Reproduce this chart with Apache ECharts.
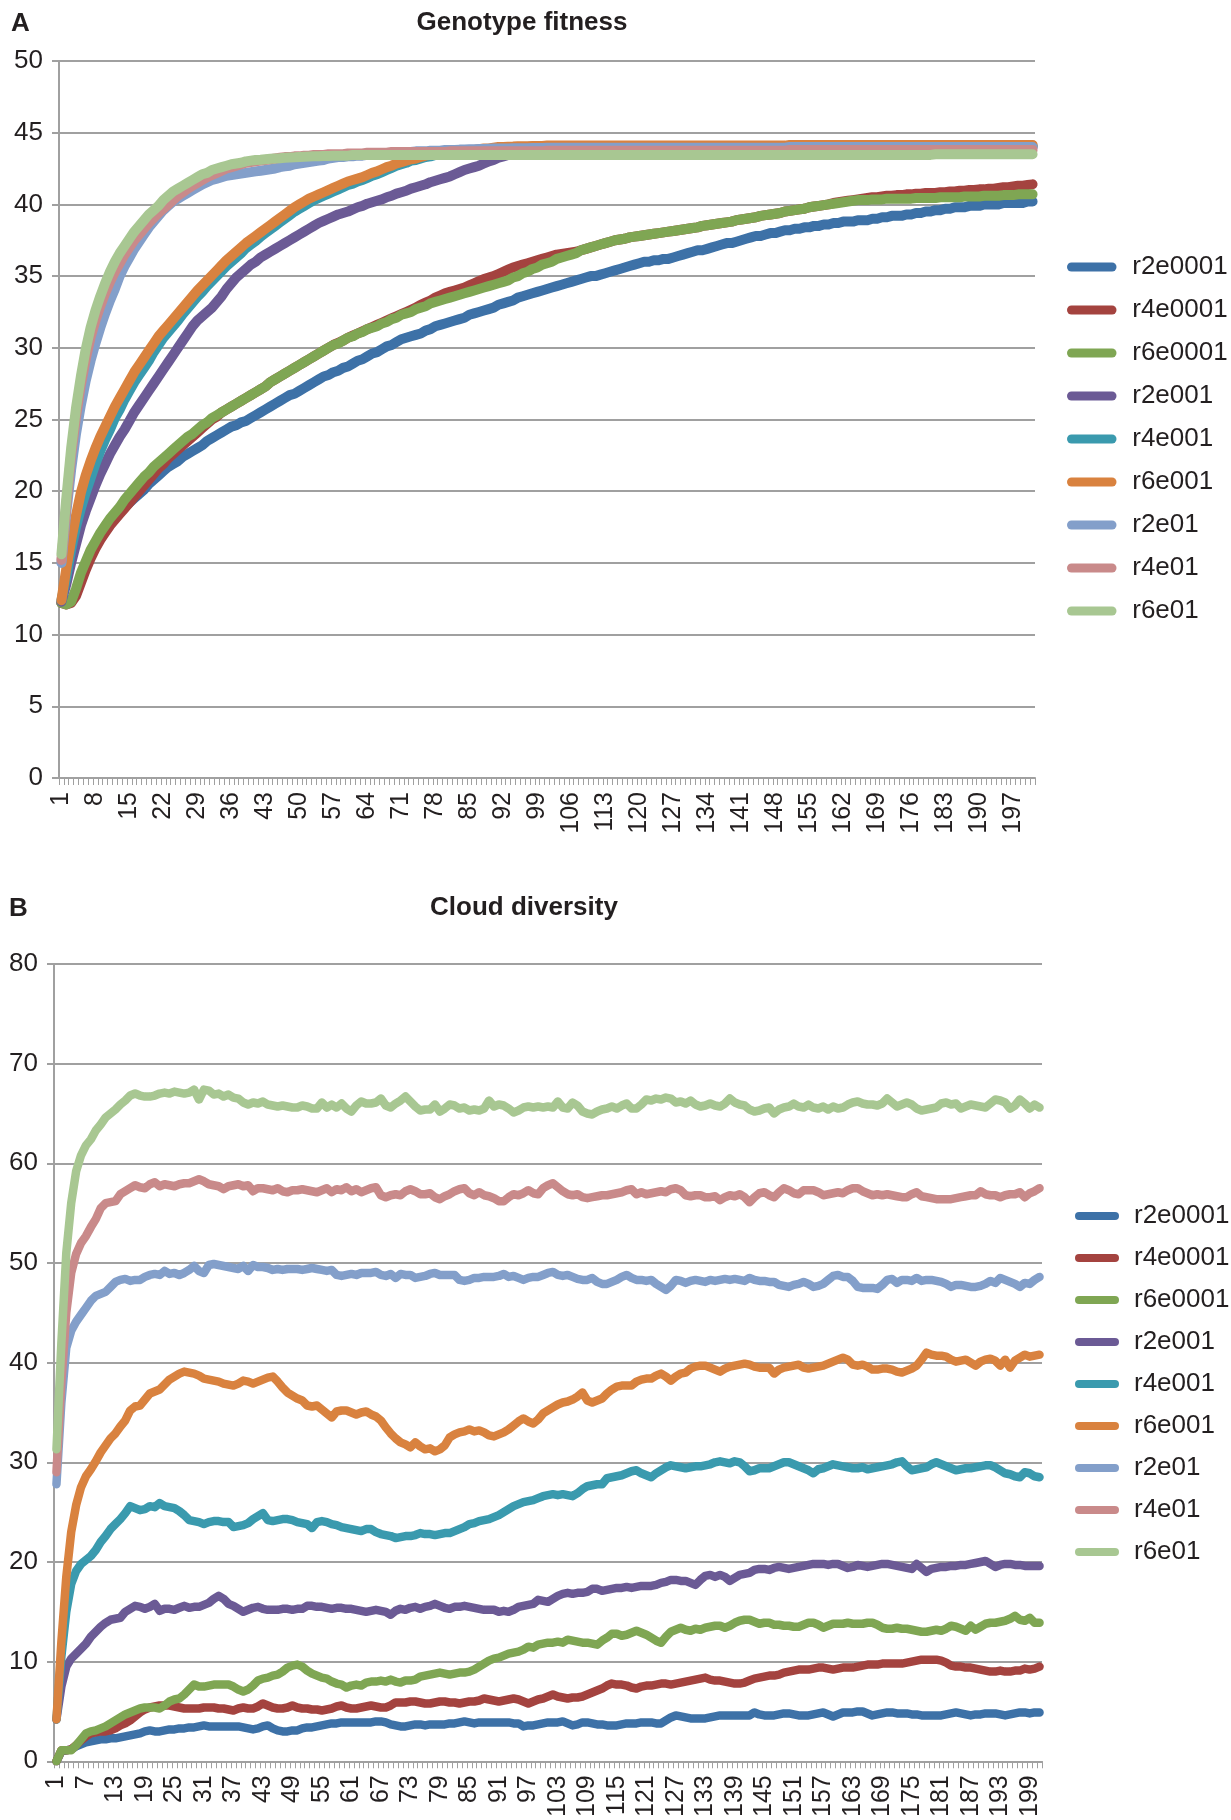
<!DOCTYPE html>
<html>
<head>
<meta charset="utf-8">
<script src="https://cdn.jsdelivr.net/npm/echarts/dist/echarts.min.js"></script>
<style>
html,body{margin:0;padding:0;background:#fff;}
#chart{width:1231px;height:1820px;}
</style>
</head>
<body>
<div id="chart"></div>
<script>
// ---------- names / colours ----------
const seriesNames = ['r2e0001','r4e0001','r6e0001','r2e001','r4e001','r6e001','r2e01','r4e01','r6e01'];
const seriesColors = ['#3d71a7','#a4433f','#7fa653','#6b5a95','#3a9aae','#d9823f','#839fca','#c98a8a','#a8c792'];

// ---------- categories (generations 1..201) ----------
const generations = [];
for (let g = 1; g <= 201; g++) generations.push(String(g));

// ---------- panel A : Genotype fitness ----------
const fit_r2e0001 = [
12.2,12.2,12.3,13.0,14.0,14.9,15.7,16.3,16.9,17.4,
17.8,18.1,18.5,18.9,19.2,19.5,19.8,20.1,20.5,20.8,
21.1,21.4,21.7,21.9,22.1,22.4,22.6,22.8,23.0,23.2,
23.5,23.7,23.9,24.1,24.3,24.5,24.6,24.8,24.9,25.1,
25.3,25.5,25.7,25.9,26.1,26.3,26.5,26.7,26.8,27.0,
27.2,27.4,27.6,27.8,28.0,28.1,28.3,28.4,28.6,28.7,
28.9,29.1,29.2,29.4,29.6,29.7,29.9,30.1,30.2,30.4,
30.6,30.7,30.8,30.9,31.0,31.2,31.3,31.5,31.6,31.7,
31.8,31.9,32.0,32.1,32.3,32.4,32.5,32.6,32.7,32.8,
33.0,33.1,33.2,33.3,33.5,33.6,33.7,33.8,33.9,34.0,
34.1,34.2,34.3,34.4,34.5,34.6,34.7,34.8,34.9,35.0,
35.0,35.1,35.2,35.3,35.4,35.5,35.6,35.7,35.8,35.9,
36.0,36.0,36.1,36.1,36.2,36.2,36.3,36.4,36.5,36.6,
36.7,36.8,36.8,36.9,37.0,37.1,37.2,37.3,37.3,37.4,
37.5,37.6,37.7,37.8,37.8,37.9,38.0,38.0,38.1,38.2,
38.2,38.3,38.3,38.4,38.4,38.5,38.5,38.6,38.6,38.7,
38.7,38.8,38.8,38.8,38.9,38.9,38.9,39.0,39.0,39.1,
39.1,39.2,39.2,39.2,39.3,39.3,39.4,39.4,39.5,39.5,
39.6,39.6,39.7,39.7,39.8,39.8,39.8,39.9,39.9,39.9,
40.0,40.0,40.0,40.0,40.1,40.1,40.1,40.1,40.1,40.2,
40.2];
const fit_r4e0001 = [
12.2,12.1,12.2,12.7,13.6,14.5,15.3,16.0,16.6,17.1,
17.6,18.0,18.4,18.8,19.2,19.6,20.0,20.4,20.8,21.2,
21.6,21.9,22.3,22.6,22.9,23.2,23.5,23.8,24.1,24.4,
24.7,25.0,25.2,25.5,25.7,25.9,26.1,26.3,26.5,26.7,
26.9,27.1,27.3,27.6,27.8,28.0,28.2,28.4,28.6,28.8,
29.0,29.2,29.4,29.6,29.8,30.0,30.2,30.35,30.5,30.7,
30.85,31.0,31.15,31.3,31.45,31.6,31.75,31.9,32.05,32.2,
32.35,32.5,32.65,32.8,33.0,33.15,33.3,33.5,33.65,33.8,
33.9,34.0,34.1,34.2,34.35,34.5,34.65,34.8,34.9,35.0,
35.15,35.3,35.45,35.6,35.7,35.8,35.9,36.0,36.1,36.2,
36.3,36.4,36.5,36.55,36.6,36.65,36.7,36.8,36.9,37.0,
37.1,37.2,37.3,37.4,37.5,37.55,37.6,37.7,37.75,37.8,
37.85,37.9,37.95,38.0,38.05,38.1,38.15,38.2,38.25,38.3,
38.35,38.4,38.5,38.55,38.6,38.65,38.7,38.75,38.8,38.9,
38.95,39.0,39.05,39.1,39.2,39.25,39.3,39.35,39.4,39.5,
39.55,39.6,39.65,39.7,39.8,39.85,39.9,39.95,40.0,40.1,
40.15,40.2,40.25,40.3,40.35,40.4,40.45,40.5,40.5,40.55,
40.6,40.6,40.65,40.65,40.7,40.7,40.75,40.75,40.8,40.8,
40.8,40.85,40.85,40.9,40.9,40.95,40.95,41.0,41.0,41.05,
41.05,41.1,41.1,41.15,41.2,41.2,41.25,41.3,41.3,41.35,
41.4];
const fit_r6e0001 = [
12.2,12.1,12.3,13.2,14.3,15.1,15.9,16.5,17.1,17.6,
18.1,18.5,18.9,19.4,19.8,20.2,20.6,21.0,21.3,21.7,
22.0,22.3,22.6,22.9,23.2,23.5,23.8,24.0,24.3,24.6,
24.8,25.1,25.3,25.5,25.7,25.9,26.1,26.3,26.5,26.7,
26.9,27.1,27.3,27.6,27.8,28.0,28.2,28.4,28.6,28.8,
29.0,29.2,29.4,29.6,29.8,30.0,30.2,30.3,30.5,30.7,
30.8,31.0,31.1,31.3,31.4,31.5,31.7,31.8,32.0,32.1,
32.3,32.4,32.5,32.7,32.8,32.9,33.1,33.2,33.3,33.4,
33.5,33.6,33.7,33.8,33.9,34.0,34.1,34.2,34.3,34.4,
34.5,34.6,34.7,34.9,35.0,35.2,35.3,35.5,35.6,35.8,
35.9,36.0,36.2,36.3,36.4,36.5,36.6,36.8,36.9,37.0,
37.1,37.2,37.3,37.4,37.5,37.55,37.6,37.7,37.75,37.8,
37.85,37.9,37.95,38.0,38.05,38.1,38.15,38.2,38.25,38.3,
38.35,38.4,38.5,38.55,38.6,38.65,38.7,38.75,38.8,38.9,
38.95,39.0,39.05,39.1,39.2,39.25,39.3,39.35,39.4,39.5,
39.55,39.6,39.65,39.7,39.8,39.85,39.9,39.95,40.0,40.05,
40.1,40.15,40.2,40.25,40.3,40.3,40.3,40.35,40.35,40.35,
40.4,40.4,40.4,40.4,40.4,40.4,40.45,40.45,40.45,40.45,
40.45,40.5,40.5,40.5,40.5,40.5,40.55,40.55,40.55,40.55,
40.6,40.6,40.6,40.6,40.65,40.65,40.65,40.7,40.7,40.7,
40.7];
const fit_r2e001 = [
12.3,13.5,15.0,16.3,17.6,18.6,19.5,20.4,21.2,21.9,
22.6,23.2,23.8,24.3,24.9,25.5,26.0,26.5,27.0,27.5,
28.0,28.5,29.0,29.5,30.0,30.5,31.0,31.5,31.9,32.2,
32.5,32.8,33.2,33.6,34.1,34.5,34.9,35.2,35.5,35.8,
36.0,36.3,36.5,36.7,36.9,37.1,37.3,37.5,37.7,37.9,
38.1,38.3,38.5,38.7,38.85,39.0,39.15,39.3,39.4,39.5,
39.65,39.8,39.9,40.05,40.15,40.25,40.35,40.5,40.6,40.75,
40.85,40.95,41.1,41.2,41.3,41.4,41.55,41.65,41.75,41.85,
41.95,42.1,42.25,42.4,42.5,42.6,42.7,42.85,43.0,43.1,
43.25,43.35,43.45,43.55,43.6,43.65,43.7,43.72,43.75,43.77,
43.8,43.8,43.82,43.84,43.85,43.86,43.87,43.88,43.88,43.89,
43.9,43.9,43.9,43.9,43.9,43.9,43.9,43.9,43.91,43.91,
43.92,43.92,43.93,43.93,43.94,43.94,43.95,43.95,43.95,43.96,
43.96,43.96,43.97,43.97,43.97,43.98,43.98,43.98,43.98,43.99,
44.0,44.0,44.0,44.0,44.0,44.0,44.0,44.0,44.0,44.0,
44.0,44.0,44.0,44.0,44.0,44.0,44.0,44.0,44.0,44.0,
44.0,44.0,44.0,44.0,44.0,44.0,44.0,44.0,44.0,44.0,
44.0,44.0,44.0,44.0,44.0,44.0,44.0,44.0,44.0,44.0,
44.0,44.0,44.0,44.0,44.0,44.0,44.0,44.0,44.0,44.0,
44.0,44.0,44.0,44.0,44.0,44.0,44.0,44.0,44.0,44.0,
44.0];
const fit_r4e001 = [
12.4,14.0,15.9,17.5,18.8,19.9,20.9,21.9,22.8,23.6,
24.3,25.1,25.7,26.4,27.0,27.6,28.1,28.6,29.1,29.7,
30.2,30.7,31.1,31.5,31.9,32.35,32.75,33.15,33.55,33.9,
34.3,34.65,35.0,35.35,35.7,36.0,36.3,36.6,36.95,37.2,
37.45,37.75,38.0,38.25,38.5,38.75,39.0,39.25,39.5,39.7,
39.9,40.1,40.3,40.45,40.6,40.75,40.9,41.05,41.2,41.35,
41.45,41.6,41.7,41.85,42.0,42.1,42.25,42.4,42.55,42.7,
42.8,42.9,43.05,43.1,43.2,43.3,43.35,43.45,43.5,43.5,
43.55,43.6,43.6,43.65,43.7,43.75,43.8,43.85,43.85,43.9,
43.95,43.95,43.97,43.98,44.0,44.0,44.0,44.02,44.02,44.03,
44.05,44.05,44.05,44.05,44.05,44.05,44.05,44.05,44.05,44.05,
44.05,44.05,44.05,44.05,44.05,44.05,44.05,44.05,44.05,44.05,
44.05,44.05,44.05,44.05,44.05,44.05,44.05,44.05,44.05,44.05,
44.05,44.05,44.05,44.05,44.05,44.05,44.05,44.05,44.05,44.05,
44.05,44.05,44.05,44.05,44.05,44.05,44.05,44.05,44.05,44.05,
44.1,44.1,44.1,44.1,44.1,44.1,44.1,44.1,44.1,44.1,
44.1,44.1,44.1,44.1,44.1,44.1,44.1,44.1,44.1,44.1,
44.1,44.1,44.1,44.1,44.1,44.1,44.1,44.1,44.1,44.1,
44.1,44.1,44.1,44.1,44.1,44.1,44.1,44.1,44.1,44.1,
44.1,44.1,44.1,44.1,44.1,44.1,44.1,44.1,44.1,44.1,
44.1];
const fit_r6e001 = [
12.4,14.6,16.6,18.3,19.9,21.1,22.1,23.0,23.8,24.5,
25.2,25.9,26.5,27.1,27.7,28.3,28.8,29.3,29.8,30.3,
30.8,31.2,31.6,32.0,32.4,32.8,33.2,33.6,34.0,34.35,
34.7,35.05,35.4,35.75,36.1,36.4,36.7,37.0,37.3,37.55,
37.8,38.05,38.3,38.55,38.8,39.05,39.3,39.55,39.8,40.0,
40.2,40.4,40.55,40.7,40.85,41.0,41.15,41.3,41.45,41.6,
41.7,41.8,41.9,42.05,42.2,42.3,42.45,42.6,42.7,42.85,
42.95,43.05,43.15,43.2,43.3,43.4,43.45,43.5,43.55,43.55,
43.6,43.65,43.65,43.7,43.75,43.8,43.85,43.9,43.9,43.95,
44.0,44.0,44.02,44.03,44.05,44.05,44.06,44.07,44.08,44.08,
44.1,44.1,44.1,44.1,44.1,44.1,44.1,44.1,44.1,44.1,
44.1,44.1,44.1,44.1,44.1,44.1,44.1,44.1,44.1,44.1,
44.1,44.1,44.1,44.1,44.1,44.1,44.1,44.1,44.1,44.1,
44.1,44.1,44.1,44.1,44.1,44.1,44.1,44.1,44.1,44.1,
44.1,44.1,44.1,44.1,44.1,44.1,44.1,44.1,44.1,44.1,
44.15,44.15,44.15,44.15,44.15,44.15,44.15,44.15,44.15,44.15,
44.15,44.15,44.15,44.15,44.15,44.15,44.15,44.15,44.15,44.15,
44.15,44.15,44.15,44.15,44.15,44.15,44.15,44.15,44.15,44.15,
44.15,44.15,44.15,44.15,44.15,44.15,44.15,44.15,44.15,44.15,
44.15,44.15,44.15,44.15,44.15,44.15,44.15,44.15,44.15,44.15,
44.15];
const fit_r2e01 = [
15.0,18.5,21.5,24.0,26.0,27.7,29.1,30.3,31.4,32.4,
33.3,34.1,35.0,35.7,36.3,36.9,37.4,37.9,38.4,38.8,
39.2,39.6,39.9,40.2,40.4,40.6,40.8,41.0,41.2,41.4,
41.55,41.7,41.8,41.9,42.0,42.05,42.1,42.15,42.2,42.25,
42.3,42.35,42.4,42.45,42.5,42.6,42.65,42.7,42.8,42.85,
42.9,42.95,43.0,43.05,43.1,43.2,43.25,43.3,43.3,43.35,
43.35,43.4,43.4,43.45,43.45,43.5,43.5,43.55,43.55,43.6,
43.6,43.65,43.65,43.7,43.7,43.7,43.75,43.75,43.75,43.8,
43.8,43.8,43.82,43.83,43.84,43.85,43.86,43.87,43.88,43.89,
43.9,43.9,43.9,43.91,43.91,43.92,43.92,43.93,43.93,43.94,
43.95,43.95,43.95,43.95,43.95,43.95,43.95,43.95,43.95,43.95,
43.95,43.95,43.95,43.95,43.95,43.95,43.95,43.95,43.95,43.95,
43.95,43.95,43.95,43.95,43.95,43.95,43.95,43.95,43.95,43.95,
43.95,43.95,43.95,43.95,43.95,43.95,43.95,43.95,43.95,43.95,
43.95,43.95,43.95,43.95,43.95,43.95,43.95,43.95,43.95,43.95,
44.0,44.0,44.0,44.0,44.0,44.0,44.0,44.0,44.0,44.0,
44.0,44.0,44.0,44.0,44.0,44.0,44.0,44.0,44.0,44.0,
44.0,44.0,44.0,44.0,44.0,44.0,44.0,44.0,44.0,44.0,
44.0,44.0,44.0,44.0,44.0,44.0,44.0,44.0,44.0,44.0,
44.0,44.0,44.0,44.0,44.0,44.0,44.0,44.0,44.0,44.0,
44.0];
const fit_r4e01 = [
15.2,19.0,22.5,25.2,27.4,29.2,30.7,31.9,32.9,33.8,
34.6,35.3,35.9,36.5,37.0,37.5,37.9,38.3,38.7,39.05,
39.4,39.7,40.0,40.3,40.6,40.85,41.1,41.3,41.5,41.7,
41.9,42.05,42.2,42.35,42.5,42.6,42.7,42.8,42.9,42.95,
43.0,43.05,43.1,43.15,43.2,43.25,43.3,43.3,43.35,43.35,
43.4,43.4,43.45,43.45,43.45,43.5,43.5,43.5,43.5,43.55,
43.55,43.55,43.55,43.6,43.6,43.6,43.6,43.6,43.65,43.65,
43.65,43.65,43.65,43.65,43.65,43.65,43.65,43.65,43.65,43.65,
43.7,43.7,43.7,43.7,43.7,43.7,43.7,43.7,43.7,43.7,
43.7,43.7,43.7,43.7,43.7,43.7,43.7,43.7,43.7,43.7,
43.75,43.75,43.75,43.75,43.75,43.75,43.75,43.75,43.75,43.75,
43.75,43.75,43.75,43.75,43.75,43.75,43.75,43.75,43.75,43.75,
43.75,43.75,43.75,43.75,43.75,43.75,43.75,43.75,43.75,43.75,
43.75,43.75,43.75,43.75,43.75,43.75,43.75,43.75,43.75,43.75,
43.75,43.75,43.75,43.75,43.75,43.75,43.75,43.75,43.75,43.75,
43.8,43.8,43.8,43.8,43.8,43.8,43.8,43.8,43.8,43.8,
43.8,43.8,43.8,43.8,43.8,43.8,43.8,43.8,43.8,43.8,
43.8,43.8,43.8,43.8,43.8,43.8,43.8,43.8,43.8,43.8,
43.8,43.8,43.8,43.8,43.8,43.8,43.8,43.8,43.8,43.8,
43.8,43.8,43.8,43.8,43.8,43.8,43.8,43.8,43.8,43.8,
43.8];
const fit_r6e01 = [
15.6,19.5,23.0,25.8,28.0,29.9,31.4,32.6,33.6,34.5,
35.3,36.0,36.6,37.1,37.6,38.1,38.5,38.9,39.3,39.6,
39.9,40.3,40.6,40.9,41.1,41.3,41.5,41.7,41.9,42.1,
42.2,42.4,42.5,42.6,42.7,42.8,42.85,42.9,43.0,43.05,
43.1,43.12,43.15,43.18,43.2,43.22,43.25,43.27,43.28,43.3,
43.32,43.34,43.35,43.36,43.37,43.38,43.39,43.4,43.4,43.4,
43.45,43.45,43.45,43.45,43.45,43.45,43.45,43.45,43.45,43.45,
43.45,43.45,43.45,43.45,43.45,43.45,43.45,43.45,43.45,43.45,
43.45,43.45,43.45,43.45,43.45,43.45,43.45,43.45,43.45,43.45,
43.45,43.45,43.45,43.45,43.45,43.45,43.45,43.45,43.45,43.45,
43.45,43.45,43.45,43.45,43.45,43.45,43.45,43.45,43.45,43.45,
43.45,43.45,43.45,43.45,43.45,43.45,43.45,43.45,43.45,43.45,
43.45,43.45,43.45,43.45,43.45,43.45,43.45,43.45,43.45,43.45,
43.45,43.45,43.45,43.45,43.45,43.45,43.45,43.45,43.45,43.45,
43.45,43.45,43.45,43.45,43.45,43.45,43.45,43.45,43.45,43.45,
43.45,43.45,43.45,43.45,43.45,43.45,43.45,43.45,43.45,43.45,
43.45,43.45,43.45,43.45,43.45,43.45,43.45,43.45,43.45,43.45,
43.45,43.45,43.45,43.45,43.45,43.45,43.45,43.45,43.45,43.45,
43.5,43.5,43.5,43.5,43.5,43.5,43.5,43.5,43.5,43.5,
43.5,43.5,43.5,43.5,43.5,43.5,43.5,43.5,43.5,43.5,
43.5];

// ---------- panel B : Cloud diversity ----------
const div_r2e0001 = [
0,1.0,1.1,1.2,1.5,1.7,1.9,2.0,2.1,2.2,
2.2,2.3,2.3,2.4,2.5,2.6,2.7,2.8,3.0,3.1,
3.0,3.0,3.1,3.2,3.2,3.3,3.3,3.4,3.4,3.5,
3.6,3.5,3.5,3.5,3.5,3.5,3.5,3.5,3.4,3.3,
3.2,3.3,3.5,3.6,3.3,3.1,3.0,3.0,3.1,3.1,
3.3,3.4,3.4,3.5,3.6,3.7,3.8,3.8,3.9,3.9,
3.9,3.9,3.9,3.9,3.9,4.0,4.0,3.9,3.7,3.6,
3.5,3.5,3.6,3.7,3.7,3.6,3.7,3.7,3.7,3.7,
3.8,3.8,3.9,4.0,3.9,3.8,3.9,3.9,3.9,3.9,
3.9,3.9,3.9,3.8,3.8,3.5,3.6,3.6,3.7,3.8,
3.9,3.9,3.9,4.0,3.8,3.6,3.7,3.9,3.9,3.8,
3.7,3.7,3.6,3.6,3.6,3.7,3.8,3.8,3.8,3.9,
3.9,3.9,3.8,3.8,4.1,4.4,4.6,4.5,4.4,4.3,
4.3,4.3,4.3,4.4,4.5,4.6,4.6,4.6,4.6,4.6,
4.6,4.6,4.9,4.7,4.6,4.6,4.6,4.7,4.8,4.8,
4.7,4.6,4.6,4.6,4.7,4.8,4.9,4.7,4.5,4.7,
4.9,4.9,4.9,5.0,5.0,4.8,4.6,4.7,4.8,4.9,
4.9,4.8,4.8,4.8,4.7,4.7,4.6,4.6,4.6,4.6,
4.6,4.7,4.8,4.9,4.8,4.7,4.6,4.7,4.7,4.8,
4.8,4.8,4.7,4.6,4.7,4.8,4.9,4.9,4.8,4.9,
4.9];
const div_r4e0001 = [
0,1.1,1.1,1.2,1.6,2.1,2.5,2.8,2.9,3.0,
3.0,3.1,3.3,3.6,3.8,4.1,4.5,4.9,5.2,5.4,
5.5,5.6,5.6,5.6,5.5,5.4,5.3,5.3,5.3,5.3,
5.4,5.4,5.4,5.3,5.3,5.2,5.1,5.3,5.4,5.3,
5.3,5.5,5.8,5.6,5.4,5.3,5.3,5.4,5.6,5.4,
5.3,5.3,5.2,5.2,5.1,5.2,5.3,5.5,5.6,5.4,
5.3,5.3,5.4,5.5,5.6,5.5,5.4,5.4,5.6,5.9,
5.9,5.9,6.0,6.0,5.9,5.8,5.8,5.9,6.0,6.0,
5.9,5.9,5.8,5.9,6.0,6.0,6.1,6.3,6.2,6.1,
6.0,6.1,6.2,6.3,6.2,6.0,5.8,6.0,6.2,6.3,
6.5,6.7,6.5,6.4,6.3,6.4,6.4,6.5,6.7,6.9,
7.1,7.3,7.6,7.8,7.7,7.7,7.6,7.4,7.3,7.5,
7.6,7.6,7.7,7.8,7.8,7.7,7.8,7.9,8.0,8.1,
8.2,8.3,8.4,8.2,8.1,8.1,8.0,7.9,7.8,7.8,
7.9,8.1,8.3,8.4,8.5,8.6,8.6,8.7,8.9,9.0,
9.1,9.2,9.2,9.2,9.3,9.4,9.4,9.3,9.2,9.3,
9.4,9.4,9.4,9.5,9.6,9.7,9.7,9.7,9.8,9.8,
9.8,9.8,9.8,9.9,10.0,10.1,10.2,10.2,10.2,10.2,
10.1,9.9,9.6,9.5,9.5,9.4,9.4,9.3,9.2,9.1,
9.0,9.0,9.1,9.0,9.0,9.1,9.1,9.3,9.2,9.3,
9.5];
const div_r6e0001 = [
0,1.1,1.1,1.1,1.6,2.2,2.8,3.0,3.1,3.3,
3.5,3.8,4.1,4.4,4.7,4.9,5.1,5.3,5.4,5.4,
5.4,5.3,5.6,6.0,6.2,6.3,6.7,7.2,7.7,7.5,
7.5,7.6,7.7,7.7,7.7,7.7,7.5,7.2,7.0,7.2,
7.6,8.1,8.3,8.4,8.6,8.7,9.0,9.4,9.6,9.7,
9.5,9.1,8.8,8.6,8.4,8.3,8.0,7.8,7.7,7.4,
7.6,7.7,7.6,7.9,8.0,8.0,8.1,8.0,8.2,8.0,
7.9,8.1,8.1,8.2,8.5,8.6,8.7,8.8,8.9,8.8,
8.7,8.8,8.9,8.9,9.0,9.2,9.5,9.8,10.1,10.3,
10.4,10.6,10.8,10.9,11.0,11.2,11.5,11.4,11.7,11.8,
11.9,11.9,12.0,11.9,12.2,12.1,12.0,11.9,11.9,11.8,
11.7,12.1,12.4,12.8,12.8,12.6,12.7,12.9,13.1,12.9,
12.7,12.4,12.1,11.9,12.5,13.0,13.2,13.4,13.2,13.1,
13.3,13.2,13.4,13.5,13.6,13.6,13.4,13.6,13.9,14.1,
14.2,14.2,14.0,13.8,13.9,13.9,13.7,13.7,13.6,13.6,
13.5,13.5,13.7,13.9,13.9,13.7,13.4,13.6,13.8,13.8,
13.8,13.9,13.8,13.8,13.8,13.9,13.9,13.7,13.4,13.3,
13.3,13.4,13.3,13.3,13.2,13.1,13.0,13.0,13.1,13.2,
13.1,13.3,13.6,13.5,13.3,13.1,13.6,13.2,13.5,13.8,
13.9,13.9,14.0,14.1,14.3,14.6,14.2,14.1,14.4,13.9,
13.9];
const div_r2e001 = [
4.2,7.5,9.5,10.3,10.8,11.3,11.8,12.5,13.0,13.5,
13.9,14.2,14.3,14.4,15.0,15.3,15.6,15.5,15.3,15.5,
15.8,15.1,15.3,15.3,15.2,15.4,15.6,15.4,15.5,15.5,
15.7,15.9,16.3,16.6,16.3,15.8,15.6,15.3,15.0,15.2,
15.4,15.5,15.3,15.2,15.2,15.2,15.3,15.3,15.2,15.3,
15.3,15.6,15.6,15.5,15.5,15.4,15.3,15.4,15.4,15.3,
15.3,15.2,15.1,15.0,15.1,15.2,15.1,15.0,14.7,15.1,
15.3,15.2,15.4,15.5,15.3,15.5,15.6,15.8,15.6,15.4,
15.3,15.5,15.5,15.6,15.5,15.4,15.3,15.2,15.2,15.2,
15.0,15.1,15.0,15.2,15.5,15.6,15.7,15.8,16.2,16.1,
16.0,16.3,16.6,16.8,16.9,16.8,16.9,16.9,17.0,17.3,
17.3,17.1,17.2,17.3,17.4,17.4,17.5,17.4,17.5,17.6,
17.6,17.6,17.7,17.9,18.0,18.2,18.2,18.1,18.1,17.9,
17.7,18.2,18.6,18.7,18.5,18.7,18.5,18.1,18.4,18.7,
18.8,18.9,19.2,19.3,19.3,19.2,19.4,19.5,19.4,19.3,
19.4,19.5,19.6,19.7,19.8,19.8,19.8,19.7,19.8,19.8,
19.6,19.4,19.5,19.7,19.6,19.5,19.6,19.7,19.8,19.8,
19.7,19.6,19.5,19.4,19.3,19.8,19.4,19.0,19.3,19.4,
19.5,19.5,19.6,19.6,19.7,19.7,19.8,19.9,20.0,20.1,
19.8,19.5,19.7,19.8,19.8,19.7,19.7,19.6,19.6,19.6,
19.6];
const div_r4e001 = [
4.2,10.5,15.0,17.8,19.1,19.8,20.2,20.6,21.2,22.0,
22.6,23.3,23.8,24.3,24.9,25.6,25.4,25.2,25.3,25.6,
25.5,25.9,25.6,25.5,25.4,25.1,24.7,24.2,24.1,24.0,
23.8,24.0,24.1,24.1,24.0,24.0,23.5,23.6,23.7,23.9,
24.3,24.6,24.9,24.2,24.1,24.2,24.3,24.3,24.2,24.0,
23.9,23.8,23.4,24.0,24.1,24.0,23.8,23.7,23.5,23.4,
23.3,23.2,23.1,23.3,23.3,23.0,22.8,22.7,22.6,22.4,
22.5,22.6,22.6,22.7,22.9,22.8,22.8,22.7,22.8,22.9,
22.9,23.1,23.3,23.5,23.8,23.9,24.1,24.2,24.3,24.5,
24.7,25.0,25.3,25.6,25.8,26.0,26.1,26.2,26.4,26.6,
26.7,26.8,26.7,26.8,26.7,26.6,26.9,27.3,27.6,27.7,
27.8,27.8,28.4,28.5,28.6,28.7,28.9,29.1,29.2,28.9,
28.7,28.5,28.9,29.2,29.5,29.7,29.6,29.5,29.4,29.5,
29.6,29.6,29.7,29.8,30.0,30.1,30.0,29.9,30.1,30.0,
29.6,29.1,29.2,29.4,29.4,29.4,29.6,29.8,30.0,30.0,
29.8,29.6,29.4,29.2,28.9,29.3,29.4,29.6,29.8,29.7,
29.6,29.5,29.4,29.4,29.5,29.3,29.4,29.5,29.6,29.7,
29.8,30.0,30.1,29.6,29.2,29.3,29.4,29.5,29.8,30.0,
29.8,29.6,29.4,29.2,29.3,29.4,29.4,29.5,29.6,29.7,
29.7,29.5,29.2,28.9,28.8,28.6,28.5,29.0,28.9,28.6,
28.5];
const div_r6e001 = [
4.2,12.0,18.5,23.0,25.7,27.5,28.6,29.3,30.1,31.0,
31.7,32.4,32.9,33.6,34.2,35.2,35.6,35.7,36.3,36.9,
37.1,37.3,37.8,38.3,38.6,38.9,39.1,39.0,38.9,38.7,
38.4,38.3,38.2,38.1,37.9,37.8,37.7,37.9,38.2,38.1,
37.9,38.1,38.3,38.5,38.6,38.1,37.5,37.0,36.7,36.4,
36.2,35.7,35.6,35.7,35.3,34.9,34.5,35.1,35.2,35.2,
35.0,34.8,35.0,35.1,34.8,34.6,34.2,33.5,32.9,32.4,
32.0,31.8,31.5,32.0,31.6,31.3,31.4,31.1,31.3,31.7,
32.5,32.8,33.0,33.1,33.3,33.1,33.2,33.0,32.7,32.6,
32.8,33.0,33.3,33.7,34.1,34.4,34.1,33.9,34.3,34.9,
35.2,35.5,35.8,36.0,36.1,36.3,36.6,37.0,36.2,36.0,
36.2,36.4,36.9,37.3,37.6,37.7,37.7,37.7,38.1,38.3,
38.4,38.4,38.7,38.9,38.6,38.2,38.6,38.9,39.0,39.4,
39.6,39.7,39.7,39.5,39.3,39.1,39.4,39.6,39.7,39.8,
39.9,39.8,39.6,39.5,39.5,39.5,38.9,39.3,39.5,39.6,
39.7,39.8,39.5,39.4,39.5,39.6,39.7,39.9,40.1,40.3,
40.5,40.3,39.8,39.7,39.8,39.6,39.3,39.3,39.4,39.4,
39.3,39.1,39.0,39.2,39.4,39.7,40.3,41.0,40.8,40.7,
40.7,40.6,40.3,40.1,40.2,40.3,40.0,39.7,40.1,40.3,
40.4,40.2,39.7,40.3,39.5,40.2,40.5,40.8,40.6,40.7,
40.8];
const div_r2e01 = [
27.8,36.0,41.5,43.2,44.1,44.8,45.5,46.2,46.7,46.9,
47.1,47.6,48.1,48.3,48.4,48.2,48.3,48.3,48.6,48.8,
48.9,48.8,49.2,48.9,49.0,48.8,49.0,49.3,49.7,49.2,
49.0,49.8,49.9,49.8,49.7,49.6,49.5,49.4,49.7,49.2,
49.8,49.6,49.6,49.5,49.3,49.4,49.3,49.4,49.4,49.4,
49.3,49.4,49.5,49.4,49.3,49.2,49.3,48.8,48.7,48.8,
48.9,48.8,49.0,49.0,49.0,49.1,48.8,48.7,48.9,48.5,
48.9,48.8,48.8,48.5,48.6,48.7,48.9,49.0,48.8,48.8,
48.8,48.8,48.3,48.2,48.3,48.5,48.5,48.6,48.6,48.6,
48.7,48.9,48.6,48.7,48.5,48.3,48.5,48.6,48.6,48.8,
49.0,49.1,48.8,48.7,48.8,48.6,48.4,48.3,48.3,48.5,
48.1,47.9,47.9,48.1,48.3,48.6,48.8,48.5,48.3,48.3,
48.2,48.3,47.9,47.6,47.3,47.7,48.3,48.2,48.0,48.2,
48.3,48.2,48.1,48.3,48.2,48.3,48.4,48.3,48.4,48.3,
48.2,48.5,48.3,48.2,48.2,48.1,48.1,47.8,47.7,47.6,
47.8,47.9,48.1,47.9,47.6,47.7,47.9,48.3,48.7,48.8,
48.6,48.6,48.2,47.6,47.5,47.5,47.5,47.4,47.8,48.3,
48.4,48.0,48.3,48.3,48.2,48.5,48.2,48.3,48.3,48.2,
48.1,47.9,47.6,47.8,47.8,47.7,47.6,47.6,47.7,47.9,
48.2,48.0,48.5,48.3,48.1,47.9,47.6,48.0,47.9,48.3,
48.6];
const div_r4e01 = [
29.0,38.0,45.0,49.0,50.9,52.0,52.7,53.6,54.4,55.5,
56.0,56.1,56.2,56.9,57.2,57.5,57.8,57.6,57.5,57.9,
58.1,57.7,57.9,57.8,57.7,57.9,58.0,58.0,58.2,58.4,
58.2,57.9,57.8,57.7,57.4,57.7,57.8,57.9,57.7,57.8,
57.2,57.5,57.5,57.4,57.3,57.5,57.2,57.1,57.3,57.3,
57.4,57.3,57.2,57.1,57.3,57.5,57.1,57.4,57.3,57.6,
57.2,57.4,57.1,57.3,57.5,57.6,56.8,56.6,56.8,56.9,
56.8,57.2,57.4,57.2,56.9,56.9,57.0,56.6,56.4,56.7,
56.9,57.2,57.4,57.5,57.0,56.8,57.1,56.8,56.7,56.5,
56.2,56.2,56.6,56.9,56.8,57.0,57.3,57.0,56.9,57.5,
57.8,58.0,57.6,57.2,56.9,56.8,56.9,56.6,56.5,56.6,
56.7,56.8,56.8,56.9,57.0,57.1,57.3,57.4,56.9,57.1,
56.9,57.0,57.1,57.2,57.1,57.4,57.5,57.3,56.8,56.7,
56.8,56.8,56.6,56.6,56.7,56.3,56.6,56.8,56.7,56.9,
56.6,56.1,56.6,57.0,57.1,56.8,56.6,57.1,57.5,57.3,
57.0,56.9,57.3,57.3,57.3,57.1,56.8,56.9,57.0,57.1,
57.0,57.3,57.5,57.5,57.2,57.0,56.8,56.9,56.8,56.9,
56.8,56.7,56.6,56.6,56.9,57.1,56.7,56.6,56.5,56.4,
56.4,56.4,56.4,56.5,56.6,56.7,56.8,56.8,57.2,56.9,
56.8,56.8,56.6,56.8,56.9,56.9,57.1,56.6,57.0,57.2,
57.5];
const div_r6e01 = [
31.3,42.0,51.0,56.0,59.2,60.8,61.8,62.4,63.3,63.9,
64.6,65.0,65.4,65.9,66.3,66.8,67.0,66.8,66.7,66.7,
66.8,67.0,67.1,67.0,67.2,67.1,67.0,67.1,67.4,66.4,
67.4,67.3,66.9,67.0,66.7,66.9,66.6,66.5,66.1,65.9,
66.1,66.0,66.2,65.9,65.8,65.7,65.8,65.7,65.6,65.6,
65.8,65.7,65.5,65.5,66.1,65.6,65.9,65.6,66.0,65.5,
65.2,65.8,66.2,66.0,66.0,66.1,66.5,65.8,65.6,66.0,
66.3,66.7,66.2,65.7,65.3,65.4,65.4,65.9,65.2,65.5,
65.9,65.8,65.5,65.6,65.3,65.4,65.3,65.5,66.3,65.7,
65.9,65.8,65.5,65.1,65.3,65.6,65.7,65.6,65.7,65.6,
65.7,65.6,66.2,65.6,65.5,66.1,65.8,65.2,65.0,64.9,
65.2,65.4,65.5,65.7,65.5,65.8,66.0,65.5,65.5,65.9,
66.4,66.3,66.5,66.4,66.6,66.5,66.1,66.2,66.0,66.3,
65.9,65.7,65.8,66.0,65.8,65.7,66.0,66.5,66.1,65.9,
65.8,65.4,65.2,65.3,65.5,65.6,65.0,65.4,65.6,65.7,
66.0,65.7,65.6,65.9,65.6,65.5,65.7,65.4,65.7,65.5,
65.6,65.9,66.1,66.2,66.0,65.9,65.9,65.8,66.0,66.5,
66.1,65.7,65.9,66.1,65.9,65.5,65.3,65.4,65.5,65.6,
66.0,66.1,65.9,66.0,65.5,65.7,65.9,65.8,65.7,65.6,
66.0,66.4,66.3,66.1,65.5,65.8,66.4,66.0,65.5,65.9,
65.6];

const fitnessData = [fit_r2e0001, fit_r4e0001, fit_r6e0001, fit_r2e001, fit_r4e001, fit_r6e001, fit_r2e01, fit_r4e01, fit_r6e01];
const diversityData = [div_r2e0001, div_r4e0001, div_r6e0001, div_r2e001, div_r4e001, div_r6e001, div_r2e01, div_r4e01, div_r6e01];

// ---------- styling ----------
const FONT = '"Liberation Sans", Arial, Helvetica, sans-serif';
const TXT = '#231f20';
const GRID = '#a0a0a0';

function xAxisCfg(gridIndex, labelInterval) {
  return {
    type: 'category', gridIndex: gridIndex, data: generations, boundaryGap: true,
    axisLine: { show: true, lineStyle: { color: GRID, width: 2 } },
    axisTick: { show: true, interval: 0, length: 7, lineStyle: { color: GRID, width: 1 } },
    axisLabel: { interval: labelInterval, rotate: 90, fontSize: 25, color: TXT, fontFamily: FONT, margin: 14 },
    splitLine: { show: false }
  };
}
function yAxisCfg(gridIndex, max, interval) {
  return {
    type: 'value', gridIndex: gridIndex, min: 0, max: max, interval: interval,
    axisLine: { show: true, lineStyle: { color: GRID, width: 2 } },
    axisTick: { show: true, length: 7, lineStyle: { color: GRID, width: 2 } },
    axisLabel: { fontSize: 26, color: TXT, fontFamily: FONT, margin: 16 },
    splitLine: { show: true, lineStyle: { color: GRID, width: 2 } }
  };
}

const series = [];
seriesNames.forEach(function (name, k) {
  series.push({
    type: 'line', name: name, xAxisIndex: 0, yAxisIndex: 0, data: fitnessData[k],
    symbol: 'none', showSymbol: false, animation: false,
    lineStyle: { width: 10, color: seriesColors[k], cap: 'round', join: 'round' },
    itemStyle: { color: seriesColors[k] }
  });
});
seriesNames.forEach(function (name, k) {
  series.push({
    type: 'line', name: name, xAxisIndex: 1, yAxisIndex: 1, data: diversityData[k],
    symbol: 'none', showSymbol: false, animation: false,
    lineStyle: { width: 8.5, color: seriesColors[k], cap: 'round', join: 'round' },
    itemStyle: { color: seriesColors[k] }
  });
});

const capsule = 'path://M5,0 L50,0 A5,5 0 0 1 50,10 L5,10 A5,5 0 0 1 5,0 Z';

const option = {
  backgroundColor: '#ffffff',
  animation: false,
  title: [
    { text: 'A', left: 11, top: 11, padding: 0, textStyle: { fontSize: 26, fontWeight: 'bold', color: TXT, fontFamily: FONT } },
    { text: 'Genotype fitness', left: 522, top: 10, padding: 0, textAlign: 'center', textStyle: { fontSize: 26, fontWeight: 'bold', color: TXT, fontFamily: FONT } },
    { text: 'B', left: 9, top: 896, padding: 0, textStyle: { fontSize: 26, fontWeight: 'bold', color: TXT, fontFamily: FONT } },
    { text: 'Cloud diversity', left: 524, top: 895, padding: 0, textAlign: 'center', textStyle: { fontSize: 26, fontWeight: 'bold', color: TXT, fontFamily: FONT } }
  ],
  grid: [
    { left: 59, top: 61, width: 976, height: 717, containLabel: false },
    { left: 54, top: 964, width: 988, height: 799, containLabel: false }
  ],
  xAxis: [xAxisCfg(0, 6), xAxisCfg(1, 5)],
  yAxis: [yAxisCfg(0, 50, 5), yAxisCfg(1, 80, 10)],
  legend: [
    {
      data: seriesNames, orient: 'vertical', left: 1067, top: 252, padding: 0,
      itemWidth: 55, itemHeight: 9, itemGap: 13, icon: capsule, selectedMode: false,
      textStyle: { fontSize: 26, color: TXT, fontFamily: FONT, lineHeight: 30, padding: [0, 0, 0, 8] }
    },
    {
      data: seriesNames, orient: 'vertical', left: 1075, top: 1201, padding: 0,
      itemWidth: 52, itemHeight: 8, itemGap: 12, icon: capsule, selectedMode: false,
      textStyle: { fontSize: 26, color: TXT, fontFamily: FONT, lineHeight: 30, padding: [0, 0, 0, 6] }
    }
  ],
  series: series
};

const chart = echarts.init(document.getElementById('chart'), null, { renderer: 'canvas', width: 1231, height: 1820 });
chart.setOption(option);
</script>
</body>
</html>
